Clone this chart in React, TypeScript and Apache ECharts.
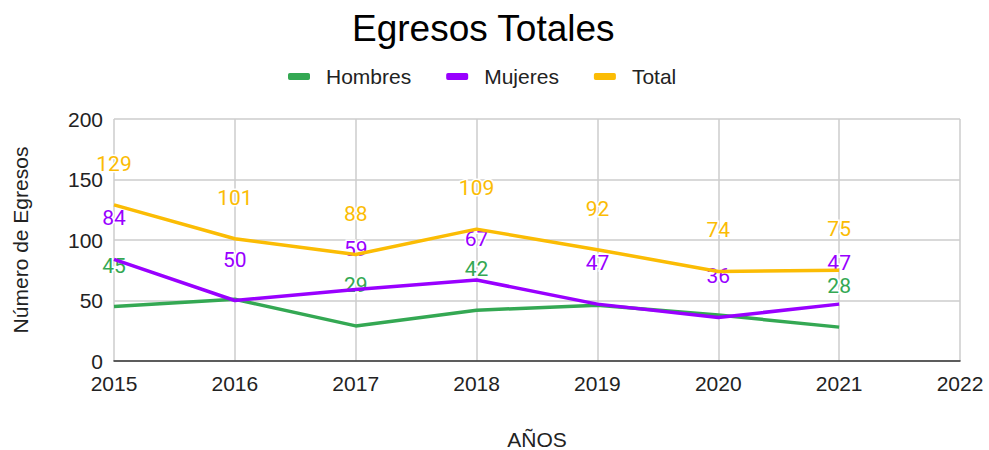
import React, { useEffect, useRef } from "react";
import * as echarts from "echarts";

const years = [2015, 2016, 2017, 2018, 2019, 2020, 2021];
const hombres = [45, 51, 29, 42, 46, 38, 28];
const mujeres = [84, 50, 59, 67, 47, 36, 47];
const total = [129, 101, 88, 109, 92, 74, 75];
const seriesNames = ["Hombres", "Mujeres", "Total"];
const colors = ["#34a853", "#9900ff", "#fbbc04"];
// Hombres labels that the reference hides beneath the Mujeres labels
const hiddenLabels: number[][] = [[1, 4, 5], [], []];

export default function App() {
  const ref = useRef<HTMLDivElement>(null);
  useEffect(() => {
    const chart = echarts.init(ref.current!, null, { renderer: "svg" });
    const datasets = [hombres, mujeres, total];
    const font = "'Liberation Sans', Arial, sans-serif";
    const labelFont = "Roboto";
    chart.setOption({
      animation: false,
      textStyle: { fontFamily: font },
      title: {
        text: "Egresos Totales",
        left: 352,
        top: 10,
        padding: 0,
        textStyle: { fontFamily: font, fontSize: 37, fontWeight: "normal", color: "#000" },
      },
      legend: {
        top: 66,
        left: 288,
        padding: 0,
        icon: "roundRect",
        itemWidth: 22,
        itemHeight: 7,
        itemGap: 35,
        itemStyle: { opacity: 1 },
        textStyle: { fontFamily: font, fontSize: 21, color: "#222", padding: [0, 0, 0, 11] },
        data: seriesNames.map((n, i) => ({ name: n, itemStyle: { color: colors[i], opacity: 1 } })),
      },
      grid: {
        left: 114,
        right: 29,
        top: 119,
        bottom: 89,
        containLabel: false,
        outerBoundsMode: "none",
      },
      xAxis: {
        type: "value",
        min: 2015,
        max: 2022,
        interval: 1,
        name: "AÑOS",
        nameLocation: "middle",
        nameGap: 68,
        nameTextStyle: { fontFamily: font, fontSize: 21, color: "#222" },
        axisLine: { show: true, lineStyle: { color: "#333", width: 1.5 } },
        axisTick: { show: false },
        axisLabel: {
          formatter: (v: number) => String(v),
          fontFamily: font,
          fontSize: 21,
          color: "#222",
          margin: 12,
        },
        splitLine: { show: true, lineStyle: { color: "#cccccc", width: 1.5 } },
      },
      yAxis: {
        type: "value",
        min: 0,
        max: 200,
        interval: 50,
        name: "Número de Egresos",
        nameLocation: "middle",
        nameGap: 83,
        nameTextStyle: { fontFamily: font, fontSize: 21, color: "#222" },
        axisLine: { show: false },
        axisTick: { show: false },
        axisLabel: { fontFamily: font, fontSize: 21, color: "#222", margin: 11 },
        splitLine: { show: true, lineStyle: { color: "#cccccc", width: 1.5 } },
      },
      series: seriesNames.map((name, i) => ({
        name,
        type: "line",
        data: years.map((y, j) =>
          hiddenLabels[i].includes(j)
            ? { value: [y, datasets[i][j]], label: { show: false } }
            : [y, datasets[i][j]]
        ),
        color: colors[i],
        lineStyle: { width: 3.5, color: colors[i] },
        symbol: "circle",
        symbolSize: 1,
        showSymbol: true,
        itemStyle: { color: colors[i], opacity: 0 },
        z: 2 + i,
        label: {
          show: true,
          position: "top",
          distance: 30,
          fontFamily: labelFont,
          fontSize: 21,
          color: colors[i],
          opacity: 1,
          textBorderColor: "#fff",
          textBorderWidth: 3,
        },
      })),
    });
    return () => chart.dispose();
  }, []);
  return (
    <div
      ref={ref}
      style={{ position: "absolute", left: 0, top: 0, width: 989, height: 450 }}
    />
  );
}
